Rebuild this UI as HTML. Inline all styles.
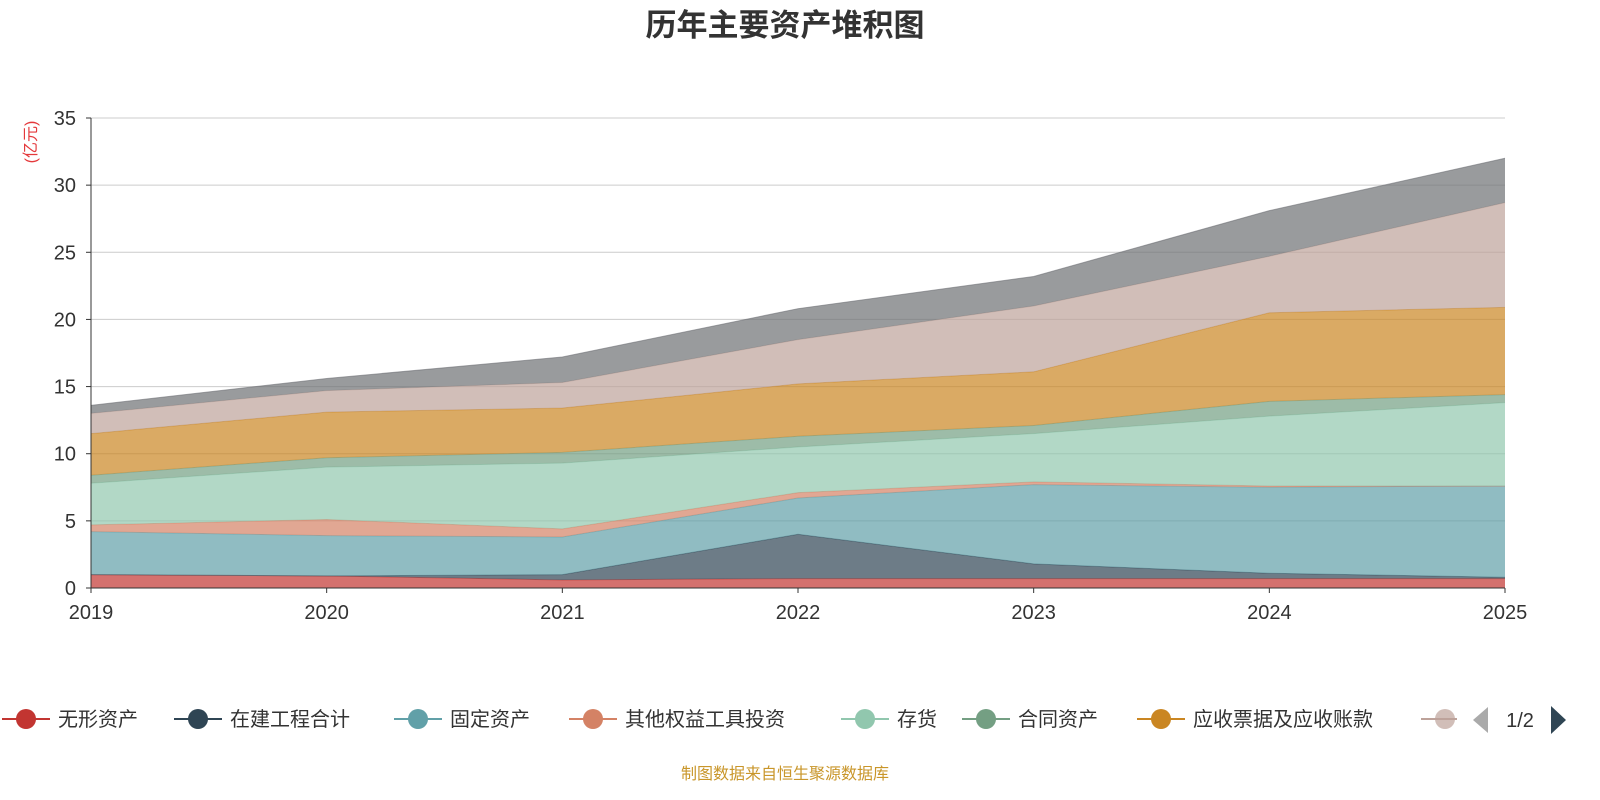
<!DOCTYPE html>
<html><head><meta charset="utf-8">
<style>
html,body{margin:0;padding:0;background:#fff;}
svg{display:block;font-family:"Liberation Sans","Noto Sans CJK SC",sans-serif;}
</style></head>
<body>
<svg id="c" width="1600" height="800" viewBox="0 0 1600 800">
<text x="785" y="36" text-anchor="middle" font-size="31" font-weight="bold" fill="#333">历年主要资产堆积图</text>
<text transform="translate(36,142) rotate(-90)" text-anchor="middle" font-size="16" fill="#e4393c">(亿元)</text>
<g id="grid"></g><g id="areas"></g><g id="axes"></g><g id="legend"></g>
<text x="785" y="779" text-anchor="middle" font-size="16" fill="#c9962a">制图数据来自恒生聚源数据库</text>
</svg>
<script>
const years = ['2019','2020','2021','2022','2023','2024','2025'];
const yTicks = [0,5,10,15,20,25,30,35];
const seriesNames = ['无形资产','在建工程合计','固定资产','其他权益工具投资','存货','合同资产','应收票据及应收账款','其他','货币资金'];
const s1 = [1.0,0.9,0.6,0.7,0.7,0.7,0.7];
const s2 = [0.0,0.0,0.4,3.3,1.1,0.4,0.1];
const s3 = [3.2,3.0,2.8,2.7,5.9,6.4,6.8];
const s4 = [0.5,1.2,0.6,0.4,0.2,0.1,0.0];
const s5 = [3.1,3.9,4.9,3.4,3.6,5.2,6.2];
const s6 = [0.6,0.7,0.8,0.8,0.6,1.1,0.6];
const s7 = [3.1,3.4,3.3,3.9,4.0,6.6,6.5];
const s8 = [1.5,1.6,1.9,3.3,4.9,4.2,7.8];
const s9 = [0.6,0.9,1.9,2.3,2.2,3.4,3.3];
const seriesData = [s1,s2,s3,s4,s5,s6,s7,s8,s9];
const colors = ['#c23531','#2f4554','#61a0a8','#d48265','#91c7ae','#749f83','#ca8622','#bda29a','#6e7074'];
const NS='http://www.w3.org/2000/svg';
const x0=91,x1=1505,y0=588,y1=118;
const xs=i=>x0+(x1-x0)*i/(years.length-1);
const ys=v=>y0-(y0-y1)*v/35;
function mk(t,a,p){const e=document.createElementNS(NS,t);for(const k in a)e.setAttribute(k,a[k]);p.appendChild(e);return e;}
const grid=document.getElementById('grid'),areas=document.getElementById('areas'),axes=document.getElementById('axes'),leg=document.getElementById('legend');
yTicks.forEach(v=>{
  if(v>0){const l=mk('line',{x1:x0,x2:x1,y1:ys(v),y2:ys(v),stroke:'#ccc','stroke-width':1},grid);
  
  }
  const t=mk('text',{x:x0-15,y:ys(v)+7,'text-anchor':'end','font-size':20,fill:'#333'},axes);t.textContent=v;
  
  
  mk('line',{x1:x0-5,x2:x0,y1:ys(v),y2:ys(v),stroke:'#333'},axes);
});
let base=years.map(()=>0);
seriesData.forEach((d,si)=>{
  const top=base.map((b,i)=>b+d[i]);
  let p='M'+top.map((v,i)=>xs(i)+','+ys(v)).join(' L');
  for(let i=years.length-1;i>=0;i--)p+=' L'+xs(i)+','+ys(base[i]);
  const a=mk('path',{d:p+' Z',fill:colors[si],'fill-opacity':0.7,stroke:'none'},areas);
  
  
  const l=mk('polyline',{points:top.map((v,i)=>xs(i)+','+ys(v)).join(' '),fill:'none',stroke:colors[si],'stroke-width':1,'stroke-opacity':0.6},areas);
  base=top;
});
mk('line',{x1:x0,x2:x0,y1:y1,y2:y0,stroke:'#333'},axes);
mk('line',{x1:x0,x2:x1,y1:y0,y2:y0,stroke:'#333'},axes);
years.forEach((y,i)=>{
  mk('line',{x1:xs(i),x2:xs(i),y1:y0,y2:y0+5,stroke:'#333'},axes);
  const t=mk('text',{x:xs(i),y:y0+31,'text-anchor':'middle','font-size':20,fill:'#333'},axes);t.textContent=y;
  
  
});
const legX=[26,198,418,593,865,986,1161,1445];
legX.forEach((cx,i)=>{
  const g=mk('g',{},leg);
  
  
  mk('line',{x1:cx-24,x2:cx+24,y1:719,y2:719,stroke:colors[i],'stroke-width':2},g);
  mk('circle',{cx:cx,cy:719,r:10,fill:colors[i],'fill-opacity':i==7?0.7:1},g);
  if(i<7){const t=mk('text',{x:cx+32,y:726,'font-size':20,fill:'#333'},g);t.textContent=seriesNames[i];}
});
mk('rect',{x:1457,y:700,width:14,height:40,fill:'#fff'},leg);
const pv=mk('path',{d:'M1488,707 L1488,733 L1473,720 Z',fill:'#aaa'},leg);


const pt=mk('text',{x:1520,y:727,'text-anchor':'middle','font-size':20,fill:'#333'},leg);pt.textContent='1/2';
const nx=mk('path',{d:'M1551,706 L1551,734 L1566,720 Z',fill:'#2f4554'},leg);


</script>
</body></html>
